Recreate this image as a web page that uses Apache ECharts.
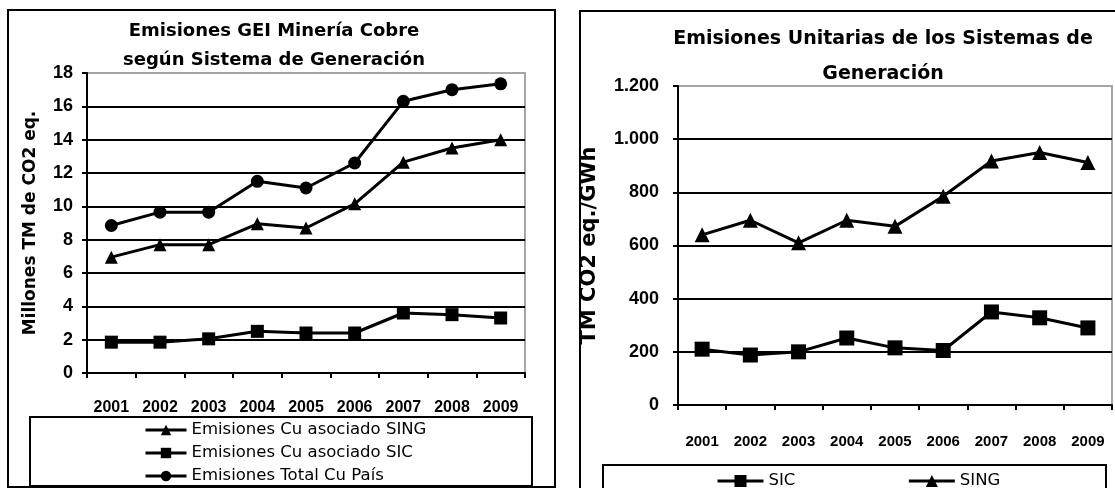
<!DOCTYPE html>
<html>
<head>
<meta charset="utf-8">
<script src="https://cdn.jsdelivr.net/npm/echarts@6/dist/echarts.min.js"></script>
<style>
html,body{margin:0;padding:0;background:#fff;}
#c{width:1115px;height:488px;}
</style>
</head>
<body>
<div id="c"></div>
<script>
// ---- data ----
var years = ['2001','2002','2003','2004','2005','2006','2007','2008','2009'];
var singCu = [6.95, 7.7, 7.7, 8.95, 8.7, 10.15, 12.65, 13.5, 14.0];
var sicCu = [1.85, 1.85, 2.05, 2.5, 2.4, 2.4, 3.6, 3.5, 3.3];
var totalCu = [8.85, 9.65, 9.65, 11.5, 11.1, 12.6, 16.3, 17.0, 17.35];
var unitSic = [210, 188, 200, 252, 215, 205, 350, 328, 290];
var unitSing = [640, 695, 610, 695, 672, 785, 918, 950, 912];
var leftTicks = {min: 0, max: 18, interval: 2};
var rightTicks = {min: 0, max: 1200, interval: 200};
var leftNames = ['Emisiones Cu asociado SING', 'Emisiones Cu asociado SIC', 'Emisiones Total Cu País'];
var rightNames = ['SIC', 'SING'];

var NUM = 'Liberation Sans';
var TXT = 'DejaVu Sans';

function catAxis(gi, fs, margin) {
  return {
    type: 'category', gridIndex: gi, data: years, boundaryGap: true,
    axisLine: {lineStyle: {color: '#000', width: 2}},
    axisTick: {show: true, length: 5, lineStyle: {color: '#000', width: 2}},
    axisLabel: {color: '#000', fontFamily: NUM, fontWeight: 'bold', fontSize: fs, margin: margin}
  };
}
function valAxis(gi, t, fs, margin, name, nameGap, nameFs, fmt) {
  return {
    type: 'value', gridIndex: gi, min: t.min, max: t.max, interval: t.interval,
    axisLine: {show: true, lineStyle: {color: '#000', width: 2}},
    axisTick: {show: true, length: 5, lineStyle: {color: '#000', width: 2}},
    axisLabel: {color: '#000', fontFamily: NUM, fontWeight: 'bold', fontSize: fs, margin: margin, formatter: fmt},
    splitLine: {show: true, showMinLine: false, showMaxLine: false, lineStyle: {color: '#000', width: 2}},
    name: name, nameLocation: 'middle', nameGap: nameGap, nameRotate: 90,
    nameTextStyle: {color: '#000', fontFamily: TXT, fontWeight: 'bold', fontSize: nameFs}
  };
}
function lineSeries(name, data, xi, yi, symbol, size) {
  return {
    name: name, type: 'line', xAxisIndex: xi, yAxisIndex: yi, data: data,
    symbol: symbol, symbolSize: size, showSymbol: true,
    lineStyle: {color: '#000', width: 3},
    itemStyle: {color: '#000'},
    emphasis: {disabled: true}, animation: false
  };
}

var chart = echarts.init(document.getElementById('c'), null, {renderer: 'canvas'});
chart.setOption({
  backgroundColor: '#fff',
  animation: false,
  title: [
    {text: 'Emisiones GEI Minería Cobre\nsegún Sistema de Generación', left: 269, top: 12, textAlign: 'center',
     textStyle: {color: '#000', fontFamily: TXT, fontWeight: 'bold', fontSize: 18, lineHeight: 29}},
    {text: 'Emisiones Unitarias de los Sistemas de\nGeneración', left: 878, top: 17, textAlign: 'center',
     textStyle: {color: '#000', fontFamily: TXT, fontWeight: 'bold', fontSize: 19, lineHeight: 35}}
  ],
  grid: [
    {left: 87, top: 73, width: 438, height: 300, show: true, borderColor: '#a6a6a6', borderWidth: 2, backgroundColor: 'transparent'},
    {left: 678, top: 86, width: 434, height: 319, show: true, borderColor: '#a6a6a6', borderWidth: 2, backgroundColor: 'transparent'}
  ],
  xAxis: [catAxis(0, 16, 27), catAxis(1, 15, 29)],
  yAxis: [
    valAxis(0, leftTicks, 18, 14, 'Millones TM de CO2 eq.', 48, 17, null),
    valAxis(1, rightTicks, 18, 19, 'TM CO2 eq./GWh', 78, 21, function (v) {
      return v >= 1000 ? Math.floor(v / 1000) + '.' + String(v % 1000).padStart(3, '0') : String(v);
    })
  ],
  legend: [
    {data: leftNames, orient: 'vertical', left: 144, top: 421, padding: 0, itemWidth: 41, itemHeight: 13, itemGap: 5,
     selectedMode: false, lineStyle: {color: '#000', width: 3},
     textStyle: {color: '#000', fontFamily: TXT, fontSize: 16.5, lineHeight: 18}},
    {data: rightNames, orient: 'horizontal', left: 716, top: 472, padding: 0, itemWidth: 46, itemHeight: 15, itemGap: 112,
     selectedMode: false, lineStyle: {color: '#000', width: 3},
     textStyle: {color: '#000', fontFamily: TXT, fontSize: 16.5, lineHeight: 18}}
  ],
  series: [
    lineSeries(leftNames[0], singCu, 0, 0, 'triangle', 13),
    lineSeries(leftNames[1], sicCu, 0, 0, 'rect', 13),
    lineSeries(leftNames[2], totalCu, 0, 0, 'circle', 13),
    lineSeries(rightNames[0], unitSic, 1, 1, 'rect', 15),
    lineSeries(rightNames[1], unitSing, 1, 1, 'triangle', 15)
  ],
  graphic: [
    {type: 'rect', shape: {x: 8, y: 10, width: 547, height: 477}, style: {fill: 'none', stroke: '#000', lineWidth: 2}, z: 100},
    {type: 'rect', shape: {x: 580, y: 11, width: 600, height: 600}, style: {fill: 'none', stroke: '#000', lineWidth: 2}, z: 100},
    {type: 'rect', shape: {x: 30, y: 417, width: 502, height: 69}, style: {fill: 'none', stroke: '#000', lineWidth: 2}, z: 100},
    {type: 'rect', shape: {x: 603, y: 465, width: 503, height: 60}, style: {fill: 'none', stroke: '#000', lineWidth: 2}, z: 100}
  ]
});
</script>
</body>
</html>
